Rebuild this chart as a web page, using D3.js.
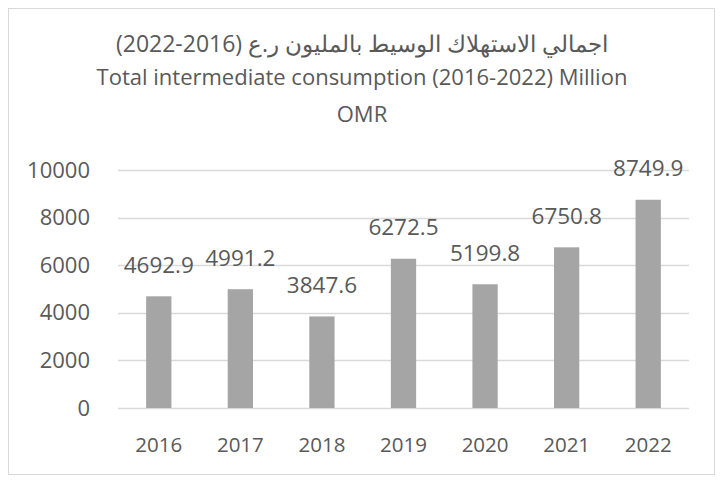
<!DOCTYPE html>
<html>
<head>
<meta charset="utf-8">
<script src="https://cdn.jsdelivr.net/npm/d3@7"></script>
<style>
  body { margin: 0; background: #fff; }
  svg text { font-family: "Open Sans", "Noto Sans", sans-serif; fill: #595959; }
</style>
</head>
<body>
<svg id="chart" width="723" height="483"></svg>
<script>
const years = ['2016', '2017', '2018', '2019', '2020', '2021', '2022']
const values = [4692.9, 4991.2, 3847.6, 6272.5, 5199.8, 6750.8, 8749.9]
const yTicks = [0, 2000, 4000, 6000, 8000, 10000]
const titleLines = [
  'اجمالي الاستهلاك الوسيط بالمليون ر.ع (2016-2022)',
  'Total intermediate consumption (2016-2022) Million',
  'OMR'
]

const svg = d3.select('#chart')
const margin = { left: 118, right: 34, top: 170, bottom: 75 }
const width = 723
const height = 483

// chart frame
svg.append('rect')
  .attr('x', 8.5).attr('y', 8.5)
  .attr('width', width - 17).attr('height', height - 17)
  .attr('fill', '#fff')
  .attr('stroke', '#d9d9d9')

const x = d3.scaleBand()
  .domain(years)
  .range([margin.left, width - margin.right])
  .paddingInner(0.69)
  .paddingOuter(0.345)

const y = d3.scaleLinear()
  .domain([0, 10000])
  .range([height - margin.bottom, margin.top])

// title
svg.append('g')
  .selectAll('text')
  .data(titleLines)
  .join('text')
  .attr('x', 362)
  .attr('y', (d, i) => [52, 85, 122][i])
  .attr('text-anchor', 'middle')
  .attr('font-size', (d, i) => i === 0 ? 23 : 22)
  .attr('direction', (d, i) => i === 0 ? 'rtl' : 'ltr')
  .text(d => d)

// gridlines
svg.append('g')
  .selectAll('line')
  .data(yTicks)
  .join('line')
  .attr('x1', margin.left)
  .attr('x2', width - margin.right)
  .attr('y1', d => Math.round(y(d)) + 0.5)
  .attr('y2', d => Math.round(y(d)) + 0.5)
  .attr('stroke', '#d9d9d9')
  .attr('stroke-width', 1.3)

// y axis labels
const yAxis = svg.append('g')
  .attr('transform', `translate(${margin.left - 28},0)`)
  .call(d3.axisLeft(y).tickValues(yTicks).tickFormat(d3.format('d')).tickSize(0).tickPadding(0))
yAxis.select('.domain').remove()
yAxis.selectAll('text')
  .attr('font-size', 22)
  .attr('font-family', '"Open Sans", sans-serif')
  .attr('fill', '#595959')

// x axis labels
const xAxis = svg.append('g')
  .attr('transform', `translate(0,452)`)
  .call(d3.axisBottom(x).tickSize(0))
xAxis.select('.domain').remove()
xAxis.selectAll('text')
  .attr('y', 0)
  .attr('dy', null)
  .attr('font-size', 20.5)
  .attr('font-family', '"Open Sans", sans-serif')
  .attr('fill', '#595959')

// bars
svg.append('g')
  .selectAll('rect')
  .data(values)
  .join('rect')
  .attr('x', (d, i) => x(years[i]))
  .attr('y', d => y(d))
  .attr('width', x.bandwidth())
  .attr('height', d => y(0) - y(d))
  .attr('fill', '#a5a5a5')

// value labels
svg.append('g')
  .selectAll('text')
  .data(values)
  .join('text')
  .attr('x', (d, i) => x(years[i]) + x.bandwidth() / 2)
  .attr('y', d => y(d) - 23.5)
  .attr('text-anchor', 'middle')
  .attr('font-size', 22.5)
  .text(d => d.toFixed(1))
</script>
</body>
</html>
